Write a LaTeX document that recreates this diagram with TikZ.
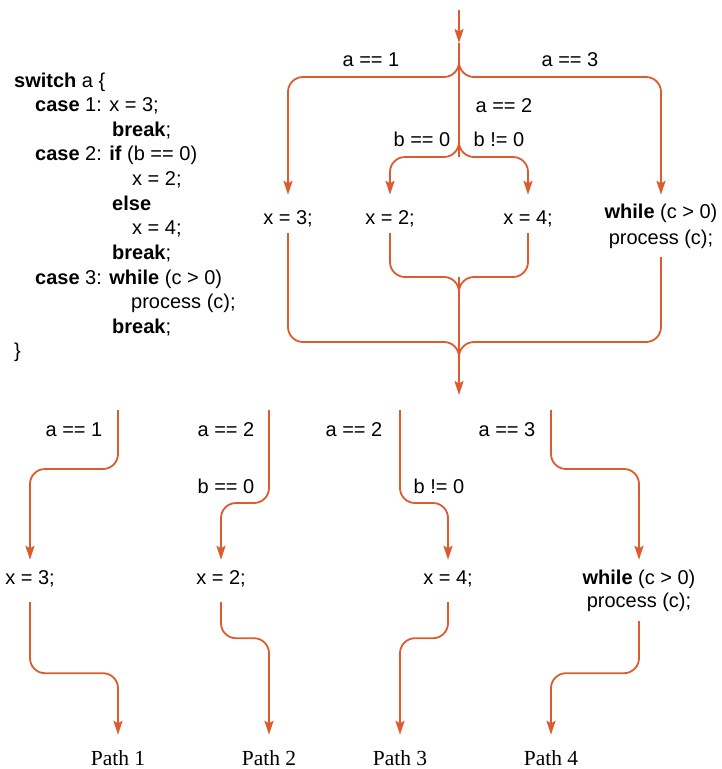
\documentclass[tikz,border=0pt]{standalone}
\usepackage{fontspec}
\setmainfont{Liberation Sans}
\newfontfamily\pathfont{Liberation Serif}
\usetikzlibrary{arrows.meta}
\definecolor{flowc}{HTML}{DE5A2F}
\begin{document}
\begin{tikzpicture}[x=1pt,y=-1pt,
  flow/.style={draw=flowc, line width=1.8pt},
  arr/.style={flow, -{Stealth[length=14pt,width=9pt,inset=2.5pt]}},
  rc/.style={rounded corners=15pt},
  lbl/.style={font=\fontsize{20}{24}\selectfont, inner sep=0pt},
  code/.style={font=\fontsize{20}{24}\selectfont, inner sep=0pt, anchor=base west},
  stmt/.style={font=\fontsize{20}{24}\selectfont, inner sep=0pt, text height=29pt, text depth=9pt},
  bst/.style={font=\fontsize{20}{24}\selectfont, inner sep=0pt, text height=24pt, text depth=18pt},
  wtop/.style={font=\fontsize{20}{26}\selectfont, inner sep=0pt, align=center, minimum height=62pt},
  wbot/.style={font=\fontsize{20}{23}\selectfont, inner sep=0pt, align=center, minimum height=61pt},
  pathlbl/.style={font=\pathfont\fontsize{21.5}{26}\selectfont, inner sep=0pt, text height=30pt, text depth=4pt}
]
\useasboundingbox (0,0) rectangle (721,769);

% ---- code listing ----
\node[code] (c1) at (14,87) {\textbf{switch} a \{};
\node[code] (c2) at (35,111) {\textbf{case} 1: x = 3;};
\node[code] (c3) at (112,136) {\textbf{break};};
\node[code] (c4) at (35,160) {\textbf{case} 2: \textbf{if} (b == 0)};
\node[code] (c5) at (132,185) {x = 2;};
\node[code] (c6) at (112,210) {\textbf{else}};
\node[code] (c7) at (132,234) {x = 4;};
\node[code] (c8) at (112,259) {\textbf{break};};
\node[code] (c9) at (35,284) {\textbf{case} 3: \textbf{while} (c > 0)};
\node[code] (c10) at (131,308) {process (c);};
\node[code] (c11) at (112,333) {\textbf{break};};
\node[code] (c12) at (14,357) {\}};

% ---- top flow graph ----
\coordinate (top) at (459,10);
\coordinate (a1) at (459,43);
\coordinate (s1) at (459,77);
\coordinate (s2) at (459,157);
\coordinate (m1) at (459,277);
\coordinate (m2) at (459,342);
\coordinate (bot) at (459,395);

\node[stmt] (n3) at (288,214) {x = 3;};
\node[stmt] (n2) at (390,214) {x = 2;};
\node[stmt] (n4) at (528,214) {x = 4;};
\node[wtop] (nw) at (661,226) {\textbf{while} (c > 0)\\process (c);};

\node[lbl] (la1) at (371,60) {a == 1};
\node[lbl] (la3) at (570,60) {a == 3};
\node[lbl] (la2) at (504,106) {a == 2};
\node[lbl] (lb0) at (422,139) {b == 0};
\node[lbl] (lb1) at (499,139) {b != 0};

\draw[arr] (top) -- (a1);
\draw[flow] (a1) -- (s2);
\draw[arr, rc] ([yshift=17pt]s1) -- (s1) -| (n3.north);
\draw[arr, rc] ([yshift=17pt]s1) -- (s1) -| (nw.north);
\draw[arr, rc] ([yshift=15pt]s2) -- (s2) -| (n2.north);
\draw[arr, rc] ([yshift=15pt]s2) -- (s2) -| (n4.north);
\draw[flow, rc] (n2.south) |- (m1) -- ([yshift=-15pt]m1);
\draw[flow, rc] (n4.south) |- (m1) -- ([yshift=-15pt]m1);
\draw[arr] (m1) -- (bot);
\draw[flow, rc] (n3.south) |- (m2) -- ([yshift=-17pt]m2);
\draw[flow, rc] (nw.south) |- (m2) -- ([yshift=-17pt]m2);

% ---- bottom: four paths ----
\coordinate (t1) at (118,410);
\coordinate (t2) at (269,410);
\coordinate (t3) at (400,410);
\coordinate (t4) at (551,410);

\node[bst] (b3) at (30,581) {x = 3;};
\node[bst] (b2) at (221,581) {x = 2;};
\node[bst] (b4) at (448,581) {x = 4;};
\node[wbot] (bw) at (639,590.5) {\textbf{while} (c > 0)\\process (c);};

\node[pathlbl] (p1) at (118,752) {Path 1};
\node[pathlbl] (p2) at (269,752) {Path 2};
\node[pathlbl] (p3) at (400,752) {Path 3};
\node[pathlbl] (p4) at (551,752) {Path 4};

\node[lbl] (q1) at (74,430) {a == 1};
\node[lbl] (q2) at (226,430) {a == 2};
\node[lbl] (q3) at (226,486) {b == 0};
\node[lbl] (q4) at (354,430) {a == 2};
\node[lbl] (q5) at (439,486) {b != 0};
\node[lbl] (q6) at (507,430) {a == 3};

\draw[arr, rc] (t1) -- ++(0,59) -| (b3.north);
\draw[arr, rc] (b3.south) -- ++(0,71) -| (p1.north);
\draw[arr, rc] (t2) -- ++(0,93) -| (b2.north);
\draw[arr, rc] (b2.south) -- ++(0,36) -| (p2.north);
\draw[arr, rc] (t3) -- ++(0,93) -| (b4.north);
\draw[arr, rc] (b4.south) -- ++(0,36) -| (p3.north);
\draw[arr, rc] (t4) -- ++(0,59) -| (bw.north);
\draw[arr, rc] (bw.south) -- ++(0,52) -| (p4.north);
\end{tikzpicture}
\end{document}
